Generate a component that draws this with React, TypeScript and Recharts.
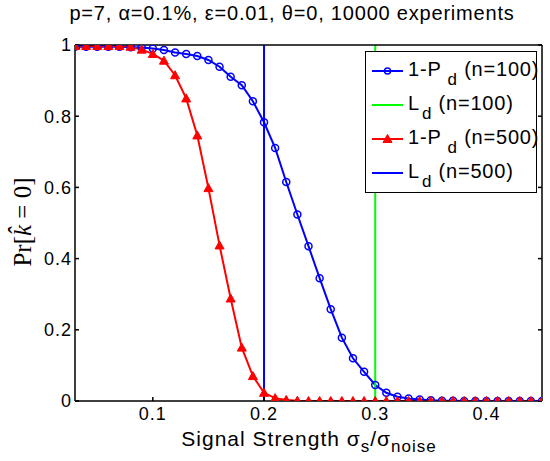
import { ComposedChart, Line, XAxis, YAxis, ReferenceLine, Legend } from "recharts";

// signal strength sigma_s / sigma_noise
const signal = [
  0.03, 0.04, 0.05, 0.06, 0.07, 0.08, 0.09, 0.1, 0.11, 0.12, 0.13, 0.14, 0.15, 0.16, 0.17,
  0.18, 0.19, 0.2, 0.21, 0.22, 0.23, 0.24, 0.25, 0.26, 0.27, 0.28, 0.29, 0.3, 0.31, 0.32,
  0.33, 0.34, 0.35, 0.36, 0.37, 0.38, 0.39, 0.4, 0.41, 0.42, 0.43, 0.44, 0.45,
];

// 1 - Pd, n = 100
const missN100 = [
  0.995, 0.995, 0.995, 0.995, 0.995, 0.994, 0.993, 0.99, 0.986, 0.979, 0.975, 0.969, 0.958,
  0.939, 0.911, 0.887, 0.842, 0.783, 0.711, 0.615, 0.524, 0.435, 0.345, 0.258, 0.178, 0.12,
  0.082, 0.045, 0.023, 0.012, 0.007, 0.004, 0.002, 0.001, 0.001, 0, 0, 0, 0, 0, 0, 0, 0,
];

// 1 - Pd, n = 500
const missN500 = [
  0.997, 0.997, 0.997, 0.997, 0.997, 0.995, 0.987, 0.975, 0.956, 0.915, 0.85, 0.746, 0.598,
  0.437, 0.288, 0.15, 0.07, 0.023, 0.008, 0.003, 0.001, 0, 0, 0, 0, 0, 0, 0, 0, 0, 0, 0, 0,
  0, 0, 0, 0, 0, 0, 0, 0, 0, 0,
];

// Ld bounds
const ldN100 = 0.3;
const ldN500 = 0.2;

const xTicks = [0.1, 0.2, 0.3, 0.4];
const yTicks = [0, 0.2, 0.4, 0.6, 0.8, 1];

const chartData = signal.map((s, i) => ({ s, n100: missN100[i], n500: missN500[i] }));

const font = "'Liberation Sans', Arial, Helvetica, sans-serif";
const serif = "'Liberation Serif', 'DejaVu Serif', serif";

const BLUE = "#0000ff";
const RED = "#ff0000";
const GREEN = "#00ff00";

const legendItems = [
  { main: "1-P", gap: 6, label: " (n=100)", color: BLUE, marker: "circle" },
  { main: "L", gap: 2, label: " (n=100)", color: GREEN, marker: "none" },
  { main: "1-P", gap: 6, label: " (n=500)", color: RED, marker: "triangle" },
  { main: "L", gap: 2, label: " (n=500)", color: BLUE, marker: "none" },
];

const Triangle = (props: any) => {
  const { cx, cy, index } = props;
  if (cx == null || cy == null) return <g key={`t-${index}`} />;
  return (
    <path
      key={`t-${index}`}
      d={`M${cx},${cy - 4.5} L${cx + 4.5},${cy + 3.5} L${cx - 4.5},${cy + 3.5} Z`}
      fill={RED}
      stroke={RED}
      strokeWidth={1}
    />
  );
};

const renderLegend = () => (
  <div
    style={{
      width: 172,
      height: 142,
      boxSizing: "border-box",
      border: "1.5px solid #000",
      background: "#fff",
      paddingTop: 2,
      fontFamily: font,
      fontSize: 20,
      letterSpacing: 0.8,
      color: "#000",
    }}
  >
    {legendItems.map((it, i) => (
      <div key={i} style={{ height: 34, display: "flex", alignItems: "center", whiteSpace: "nowrap" }}>
        <svg width={42} height={20} style={{ flex: "none" }}>
          <line x1={6} y1={10} x2={37} y2={10} stroke={it.color} strokeWidth={2} />
          {it.marker === "circle" && (
            <circle cx={21.5} cy={10} r={3} fill="none" stroke={it.color} strokeWidth={1.5} />
          )}
          {it.marker === "triangle" && (
            <path d="M21.5,5.5 L26,13.5 L17,13.5 Z" fill={it.color} stroke={it.color} />
          )}
        </svg>
        <span style={{ position: "relative", top: -2 }}>
          {it.main}
          <span style={{ fontSize: 17, position: "relative", top: 9, marginLeft: it.gap }}>d</span>
          {it.label}
        </span>
      </div>
    ))}
  </div>
);

const tickStyle = { fill: "#000", fontSize: 18, fontFamily: font, letterSpacing: 1 };
const noTick = () => <g />;

export default function App() {
  return (
    <div style={{ position: "absolute", left: 0, top: 0, background: "#fff" }}>
      <ComposedChart
        width={550}
        height={461}
        data={chartData}
        margin={{ top: 44, right: 7, bottom: 0, left: 0 }}
      >
        <XAxis
          dataKey="s"
          type="number"
          domain={[0.03, 0.45]}
          allowDataOverflow
          ticks={xTicks}
          tickFormatter={(v) => String(v)}
          tick={tickStyle}
          tickSize={-4}
          tickMargin={10}
          height={60}
          stroke="#000"
          strokeWidth={1.5}
          label={() => (
            <text
              x={309}
              y={446}
              textAnchor="middle"
              fontFamily={font}
              fontSize={21}
              letterSpacing={1}
              fill="#000"
            >
              Signal Strength σ
              <tspan fontSize={17} dy={6}>s</tspan>
              <tspan dy={-6}>/σ</tspan>
              <tspan fontSize={17} dy={6}>noise</tspan>
            </text>
          )}
        />
        <XAxis
          xAxisId="top"
          orientation="top"
          type="number"
          domain={[0.03, 0.45]}
          allowDataOverflow
          ticks={xTicks}
          tick={noTick}
          tickSize={-4}
          height={1}
          stroke="#000"
          strokeWidth={1.5}
          label={() => (
            <text
              x={292}
              y={20}
              textAnchor="middle"
              fontFamily={font}
              fontSize={20}
              letterSpacing={0.8}
              fill="#000"
            >
              p=7, α=0.1%, ε=0.01, θ=0, 10000 experiments
            </text>
          )}
        />
        <YAxis
          type="number"
          domain={[0, 1]}
          allowDataOverflow
          ticks={yTicks}
          tickFormatter={(v) => String(v)}
          tick={tickStyle}
          tickSize={-4}
          tickMargin={7}
          width={75}
          stroke="#000"
          strokeWidth={1.5}
          label={() => (
            <text
              transform="translate(31,222) rotate(-90)"
              textAnchor="middle"
              fontFamily={serif}
              fontSize={25}
              fill="#000"
            >
              Pr[<tspan fontStyle="italic">k̂</tspan> = 0]
            </text>
          )}
        />
        <YAxis
          yAxisId="right"
          orientation="right"
          type="number"
          domain={[0, 1]}
          allowDataOverflow
          ticks={yTicks}
          tick={noTick}
          tickSize={-4}
          width={1}
          stroke="#000"
          strokeWidth={1.5}
        />
        <Line
          dataKey="n100"
          stroke={BLUE}
          strokeWidth={2}
          dot={{ r: 3.5, fill: "none", stroke: BLUE, strokeWidth: 1.5 }}
          isAnimationActive={false}
        />
        <ReferenceLine x={ldN100} stroke={GREEN} strokeWidth={2} />
        <Line
          dataKey="n500"
          stroke={RED}
          strokeWidth={2}
          dot={Triangle}
          isAnimationActive={false}
        />
        <ReferenceLine x={ldN500} stroke={BLUE} strokeWidth={2} />
        <Legend
          layout="horizontal"
          verticalAlign="middle"
          align="center"
          wrapperStyle={{ position: "absolute", left: 365, top: 51, width: 172, height: 142 }}
          content={renderLegend}
        />
      </ComposedChart>
    </div>
  );
}
